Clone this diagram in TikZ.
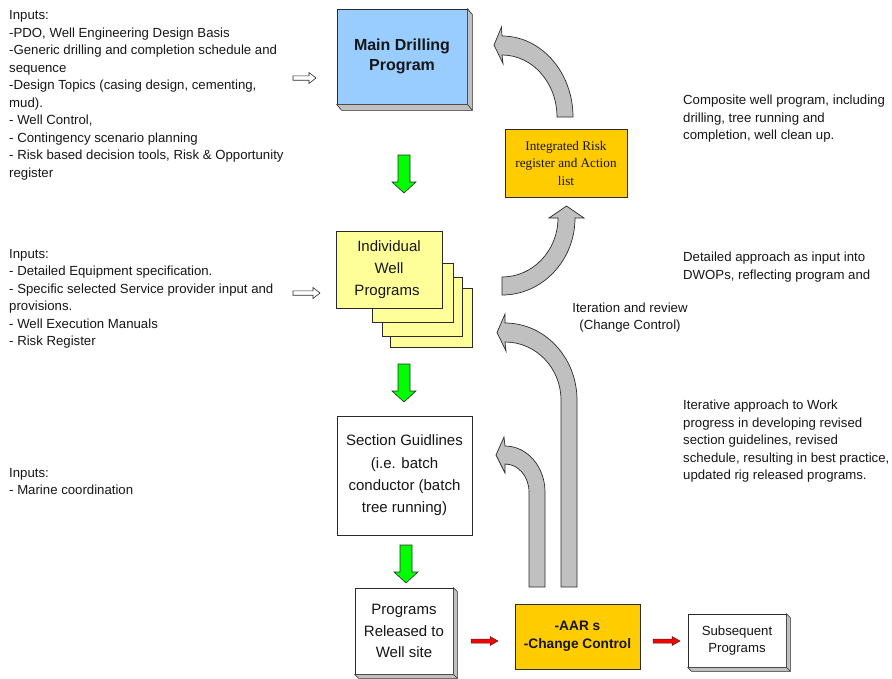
\documentclass[tikz,border=0pt]{standalone}
\usepackage{fontspec}
\setmainfont{Liberation Sans}
\newfontfamily\romanface{Liberation Serif}
\usetikzlibrary{calc}

\definecolor{ink}{HTML}{161616}
\definecolor{edge}{HTML}{2B2B2B}
\definecolor{skyfill}{HTML}{99CCFF}
\definecolor{goldfill}{HTML}{FFCC00}
\definecolor{paperfill}{HTML}{FFFF99}
\definecolor{slabgray}{HTML}{C0C0C0}
\definecolor{flowgreen}{HTML}{00FF00}
\definecolor{flowred}{HTML}{FF0000}

\tikzset{
  flowbox/.style={draw=edge, line width=0.8pt, inner sep=0pt, align=center, text=ink},
  slab/.style={fill=slabgray, draw=edge, line width=0.6pt, line join=round},
  loopband/.style={fill=slabgray, draw=edge, line width=0.7pt, line join=miter},
  notes/.style={align=left, anchor=north west, inner sep=0pt, text=ink,
    font=\fontsize{13.2}{17.5}\selectfont},
  sheet/.style={fill=paperfill, draw=edge, line width=0.8pt},
  % green block arrow pointing down, 38 long
  pics/downflow/.style={code={
    \draw[fill=flowgreen, draw=edge, line width=0.6pt, line join=miter]
      (-6,0) -- (6,0) -- (6,27) -- (12,27) -- (0,38) -- (-12,27) -- (-6,27) -- cycle;}},
  % small red arrow pointing right, 27 long
  pics/rightflow/.style={code={
    \draw[fill=flowred, draw=edge, line width=0.5pt, line join=miter]
      (0,-2) -- (19,-2) -- (19,-4.5) -- (27,0) -- (19,4.5) -- (19,2) -- (0,2) -- cycle;}},
  % hollow input arrow pointing right
  pics/inputflow/.style={code={
    \draw[fill=white, draw=edge, line width=0.6pt, line join=miter]
      (0,-2.2) -- (#1,-2.2) -- (#1,-5.5) -- ({#1+7},0) -- (#1,5.5) -- (#1,2.2) -- (0,2.2) -- cycle;}},
}

\begin{document}
\begin{tikzpicture}[x=1pt,y=-1pt]
\useasboundingbox (0,0) rectangle (892,678);

% ---------- input notes on the left ----------
\node[notes] (inA) at (9,10.5) {Inputs:\\-PDO, Well Engineering Design Basis\\-Generic drilling and completion schedule and\\sequence\\-Design Topics (casing design, cementing,\\mud).\\- Well Control,\\- Contingency scenario planning\\- Risk based decision tools, Risk \& Opportunity\\register};
\node[notes] (inB) at (9,249) {Inputs:\\- Detailed Equipment specification.\\- Specific selected Service provider input and\\provisions.\\- Well Execution Manuals\\- Risk Register};
\node[notes] (inC) at (9,468) {Inputs:\\- Marine coordination};

\pic at (293,78) {inputflow=16};
\pic at (293,293) {inputflow=20};

% ---------- main drilling program ----------
\node[flowbox, fill=skyfill, minimum width=130pt, minimum height=95pt,
  font=\bfseries\fontsize{16}{20.5}\selectfont] (main) at (402,56.5) {Main Drilling\\Program};
\draw[slab] (main.north east) -- ++(5,6) -- ($(main.south east)+(5,6)$)
  -- ($(main.south west)+(5,6)$) -- (main.south west) -- (main.south east) -- cycle;
\draw[edge, line width=0.6pt] (main.south east) -- ++(5,6);

% ---------- risk register ----------
\node[flowbox, fill=goldfill, minimum width=122pt, minimum height=68pt,
  font=\romanface\fontsize{13.2}{17.5}\selectfont] (risk) at (566,163) {Integrated Risk\\register and Action\\list};

% ---------- individual well programs (stacked sheets) ----------
\draw[sheet] (390,288) rectangle (472,347);
\draw[sheet] (382,277) rectangle (462,336);
\draw[sheet] (372,263) rectangle (453,322);
\node[flowbox, fill=paperfill, minimum width=106pt, minimum height=77pt,
  font=\fontsize{15}{22}\selectfont] (well) at (389,269.5) {Individual\\Well\hspace*{16pt}\\Programs\hspace*{4pt}};

% ---------- section guidelines ----------
\node[flowbox, fill=white, minimum width=135pt, minimum height=119pt,
  font=\fontsize{15}{22.3}\selectfont] (section) at (404.5,475.5) {Section Guidlines\\(i.e. batch\\conductor (batch\\tree running)};

% ---------- programs released ----------
\node[flowbox, fill=white, minimum width=98pt, minimum height=86pt,
  font=\fontsize{15}{21.5}\selectfont] (released) at (404,631) {Programs\\Released to\\Well site};
\draw[slab] (released.north east) -- ++(4,4) -- ($(released.south east)+(4,4)$)
  -- ($(released.south west)+(4,4)$) -- (released.south west) -- (released.south east) -- cycle;
\draw[edge, line width=0.6pt] (released.south east) -- ++(4,4);

% ---------- after action review ----------
\node[flowbox, fill=goldfill, minimum width=125pt, minimum height=65pt,
  font=\bfseries\fontsize{13.7}{18}\selectfont] (aar) at (577.5,636.5) {-AAR s\\-Change Control};

% ---------- subsequent programs ----------
\node[flowbox, fill=white, minimum width=98pt, minimum height=53pt,
  font=\fontsize{13.2}{17.5}\selectfont] (next) at (737,640.5) {Subsequent\\Programs};
\draw[slab] (next.north east) -- ++(4,4) -- ($(next.south east)+(4,4)$)
  -- ($(next.south west)+(4,4)$) -- (next.south west) -- (next.south east) -- cycle;
\draw[edge, line width=0.6pt] (next.south east) -- ++(4,4);

% ---------- downward flow ----------
\pic at (404,155) {downflow};
\pic at (404,364) {downflow};
\pic at (406,545) {downflow};

% ---------- sideways flow ----------
\pic at (471,641) {rightflow};
\pic at (653,641) {rightflow};

% ---------- feedback arrows ----------
% risk register back to main program
\draw[loopband] (573,117) .. controls (573,72.3) and (541.2,36) .. (502,36)
  -- (501.5,27) -- (494,45) -- (503,63.5) -- (502,55)
  .. controls (532.4,55) and (557,82.8) .. (557,117) -- cycle;
% well programs up to risk register
\draw[loopband] (502,295) .. controls (542.3,295) and (575,260.5) .. (575,218)
  -- (584,218) -- (566.5,206) -- (549,218) -- (558,218)
  .. controls (558,250.6) and (532.9,277) .. (502,277) -- cycle;
% long loop back to well programs
\draw[loopband] (577,587) -- (577,400) .. controls (577,357.5) and (544.8,323) .. (505,323)
  -- (505,314) -- (497,332.5) -- (506,351) -- (505,342)
  .. controls (535.9,342) and (561,368) .. (561,400) -- (561,587) -- cycle;
% short loop back to section guidelines
\draw[loopband] (545,587) -- (545,492) .. controls (545,466.6) and (527.1,446) .. (505,446)
  -- (504,437) -- (496,455) -- (505,473) -- (505,464)
  .. controls (518.3,464) and (529,476.5) .. (529,492) -- (529,587) -- cycle;

% ---------- notes on the right ----------
\node[notes] (composite) at (683,95) {Composite well program, including\\drilling, tree running and\\completion, well clean up.};
\node[notes] (detailed) at (683,252) {Detailed approach as input into\\DWOPs, reflecting program and};
\node[align=center, anchor=north, inner sep=0pt, text=ink, font=\fontsize{13.2}{17.5}\selectfont]
  (review) at (630,302.5) {Iteration and review\\(Change Control)};
\node[notes] (iterative) at (683,400) {Iterative approach to Work\\progress in developing revised\\section guidelines, revised\\schedule, resulting in best practice,\\updated rig released programs.};
\end{tikzpicture}
\end{document}
